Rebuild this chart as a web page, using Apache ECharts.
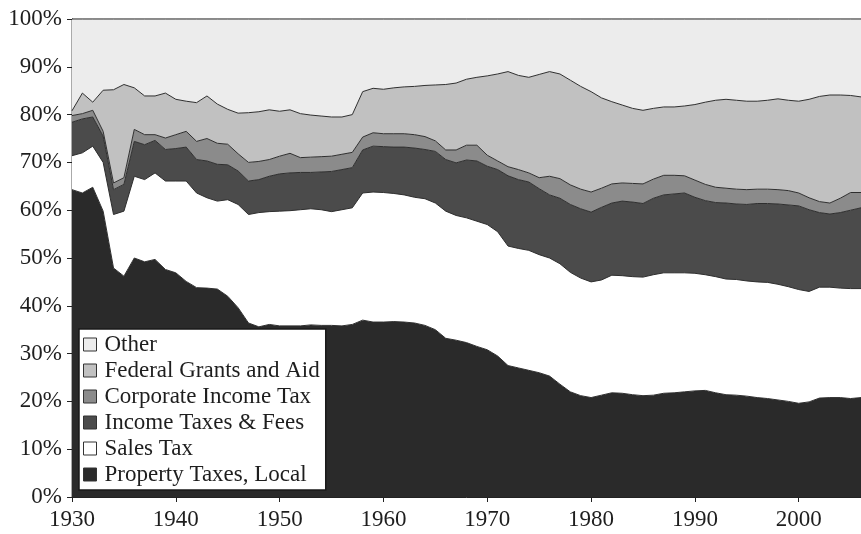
<!DOCTYPE html>
<html>
<head>
<meta charset="utf-8">
<script src="https://cdn.jsdelivr.net/npm/echarts@6/dist/echarts.min.js"></script>
<style>
  html, body { margin: 0; padding: 0; background: #fff; }
  #chart { width: 861px; height: 534px; }
</style>
</head>
<body>
<div id="chart"></div>
<script>
// years on the x axis
var years = [];
for (var y = 1930; y <= 2006; y++) years.push(String(y));

// shares of revenue in %, bottom of the stack first
var propertyTax = [64.3, 63.6, 64.8, 59.8, 47.9, 46.2, 50.0, 49.2, 49.7, 47.6,
  46.9, 45.1, 43.8, 43.7, 43.5, 42.0, 39.6, 36.4, 35.6, 36.1,
  35.8, 35.8, 35.8, 36.0, 35.9, 35.9, 35.8, 36.1, 37.0, 36.6,
  36.6, 36.7, 36.6, 36.4, 35.9, 35.0, 33.2, 32.8, 32.3, 31.5,
  30.8, 29.5, 27.5, 27.0, 26.5, 26.0, 25.3, 23.6, 22.0, 21.2,
  20.8, 21.3, 21.8, 21.7, 21.4, 21.2, 21.3, 21.7, 21.8, 22.0,
  22.2, 22.3, 21.8, 21.4, 21.3, 21.1, 20.8, 20.6, 20.3, 20.0,
  19.6, 19.9, 20.7, 20.8, 20.8, 20.6, 20.8];
var salesTax = [7.1, 8.4, 8.6, 10.2, 11.2, 13.6, 17.1, 17.2, 18.1, 18.5,
  19.2, 21.0, 19.8, 18.9, 18.4, 20.2, 21.6, 22.7, 23.9, 23.6,
  24.0, 24.1, 24.3, 24.3, 24.2, 23.8, 24.3, 24.4, 26.6, 27.2,
  27.1, 26.8, 26.6, 26.3, 26.5, 26.5, 26.6, 26.1, 26.1, 26.2,
  26.2, 26.0, 25.0, 25.0, 25.1, 24.7, 24.7, 25.2, 25.0, 24.6,
  24.2, 24.1, 24.6, 24.6, 24.7, 24.8, 25.2, 25.2, 25.1, 24.9,
  24.6, 24.2, 24.3, 24.2, 24.2, 24.1, 24.2, 24.3, 24.2, 24.0,
  23.8, 23.1, 23.2, 23.1, 22.9, 23.0, 22.8];
var incomeTax = [7.0, 7.1, 6.1, 5.5, 5.2, 5.6, 7.3, 7.3, 6.8, 6.6,
  6.8, 7.1, 7.0, 7.7, 7.7, 7.3, 7.0, 7.0, 6.9, 7.4,
  7.8, 7.9, 7.8, 7.6, 7.9, 8.4, 8.4, 8.4, 9.0, 9.6,
  9.6, 9.7, 10.0, 10.3, 10.3, 10.8, 10.8, 11.0, 12.1, 12.6,
  12.2, 13.0, 14.7, 14.4, 14.3, 13.8, 13.2, 13.7, 14.2, 14.5,
  14.6, 15.2, 15.1, 15.6, 15.6, 15.4, 16.0, 16.3, 16.5, 16.7,
  15.9, 15.5, 15.5, 15.9, 15.8, 16.0, 16.4, 16.5, 16.8, 17.1,
  17.5, 17.1, 15.6, 15.3, 15.8, 16.4, 16.9];
var corporateTax = [1.4, 1.1, 1.4, 1.0, 1.4, 1.4, 2.5, 2.1, 1.2, 2.4,
  2.9, 3.3, 3.8, 4.7, 4.4, 4.3, 3.6, 3.9, 3.8, 3.5,
  3.7, 4.1, 3.1, 3.2, 3.2, 3.2, 3.2, 3.2, 2.7, 2.8,
  2.7, 2.8, 2.8, 2.8, 2.7, 2.2, 2.0, 2.7, 3.1, 3.3,
  2.3, 1.8, 1.9, 2.1, 1.9, 2.3, 3.9, 4.1, 4.1, 4.1,
  4.2, 4.0, 4.0, 3.8, 3.9, 4.1, 4.0, 4.1, 3.9, 3.6,
  3.6, 3.4, 3.2, 3.1, 3.1, 3.1, 3.0, 3.0, 3.0, 3.0,
  2.7, 2.5, 2.3, 2.3, 3.0, 3.7, 3.2];
var federalAid = [1.0, 4.3, 1.7, 8.6, 19.5, 19.5, 8.7, 8.1, 8.1, 9.4,
  7.4, 6.3, 8.1, 8.9, 8.2, 7.3, 8.5, 10.4, 10.4, 10.4,
  9.4, 9.1, 9.2, 8.8, 8.5, 8.2, 7.8, 7.9, 9.5, 9.3,
  9.3, 9.6, 9.8, 10.1, 10.7, 11.7, 13.7, 14.0, 13.8, 14.2,
  16.6, 18.2, 19.9, 19.7, 20.0, 21.6, 21.9, 21.9, 21.9, 21.5,
  21.0, 18.9, 17.2, 16.3, 15.7, 15.4, 14.8, 14.3, 14.3, 14.6,
  15.8, 17.2, 18.2, 18.6, 18.6, 18.5, 18.4, 18.6, 19.0, 18.9,
  19.2, 20.6, 22.0, 22.6, 21.6, 20.3, 20.0];
var otherRevenue = [19.2, 15.5, 17.4, 14.9, 14.8, 13.7, 14.4, 16.1, 16.1, 15.5,
  16.8, 17.2, 17.5, 16.1, 17.8, 18.9, 19.7, 19.6, 19.4, 19.0,
  19.3, 19.0, 19.8, 20.1, 20.3, 20.5, 20.5, 20.0, 15.2, 14.5,
  14.7, 14.4, 14.2, 14.1, 13.9, 13.8, 13.7, 13.4, 12.6, 12.2,
  11.9, 11.5, 11.0, 11.8, 12.2, 11.6, 11.0, 11.5, 12.8, 14.1,
  15.2, 16.5, 17.3, 18.0, 18.7, 19.1, 18.7, 18.4, 18.4, 18.2,
  17.9, 17.4, 17.0, 16.8, 17.0, 17.2, 17.2, 17.0, 16.7, 17.0,
  17.2, 16.8, 16.2, 15.9, 15.9, 16.0, 16.3];

var seriesNames = ['Property Taxes, Local', 'Sales Tax', 'Income Taxes & Fees',
  'Corporate Income Tax', 'Federal Grants and Aid', 'Other'];
var seriesValues = [propertyTax, salesTax, incomeTax, corporateTax, federalAid, otherRevenue];
var seriesColors = ['#2a2a2a', '#ffffff', '#4b4b4b', '#8b8b8b', '#c1c1c1', '#ececec'];

var serifFont = '"Liberation Serif", "DejaVu Serif", serif';

// 只在整十年处显示刻度和标签
function decade(idx, val) {
  return Number(val) % 10 === 0;
}

// 面积堆叠，每一层一个 series
var series = seriesNames.map(function (name, i) {
  return {
    name: name,
    type: 'line',
    stack: 'total',
    showSymbol: false,
    symbol: 'none',
    lineStyle: { width: 1, color: '#2e2e2e' },
    itemStyle: { color: seriesColors[i] },
    areaStyle: { color: seriesColors[i], opacity: 1 },
    emphasis: { disabled: true },
    data: seriesValues[i]
  };
});

var option = {
  animation: false,
  backgroundColor: '#ffffff',
  grid: {
    left: 72,
    right: 0,
    top: 19,
    bottom: 37,
    show: true,
    borderColor: '#555',
    borderWidth: 1
  },
  // 图例：从上到下与堆叠顺序相反
  legend: {
    orient: 'vertical',
    left: 79,
    top: 329,
    icon: 'rect',
    itemWidth: 13,
    itemHeight: 13,
    itemGap: 3,
    padding: [4, 6, 4, 4],
    backgroundColor: '#ffffff',
    borderColor: '#1a1a1a',
    borderWidth: 1.5,
    itemStyle: { borderColor: '#333', borderWidth: 1 },
    textStyle: { fontFamily: serifFont, fontSize: 23, color: '#1e1e1e', padding: [0, 0, 0, 3] },
    data: seriesNames.slice().reverse()
  },
  xAxis: {
    type: 'category',
    data: years,
    boundaryGap: false,
    splitLine: { show: false },
    axisLine: { lineStyle: { color: '#222' } },
    axisTick: { show: true, length: 5, interval: decade, lineStyle: { color: '#222' } },
    axisLabel: {
      margin: 11,
      interval: decade,
      fontFamily: serifFont,
      fontSize: 23,
      color: '#1e1e1e'
    }
  },
  yAxis: {
    type: 'value',
    min: 0,
    max: 100,
    interval: 10,
    splitLine: { show: false },
    axisLine: { show: true, lineStyle: { color: '#222' } },
    axisTick: { show: true, length: 5, lineStyle: { color: '#222' } },
    axisLabel: {
      margin: 10,
      formatter: '{value}%',
      fontFamily: serifFont,
      fontSize: 23,
      color: '#1e1e1e'
    }
  },
  series: series
};

var myChart = echarts.init(document.getElementById('chart'), null, { renderer: 'canvas' });
myChart.setOption(option);
</script>
</body>
</html>
